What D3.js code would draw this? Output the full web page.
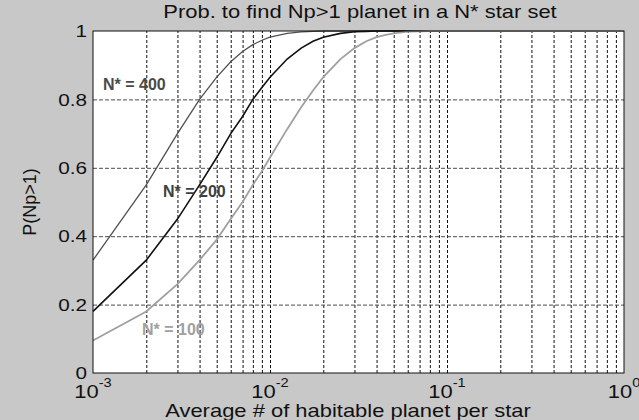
<!DOCTYPE html>
<html>
<head>
<meta charset="utf-8">
<script src="https://cdn.jsdelivr.net/npm/d3@7"></script>
<style>
  body { margin: 0; background: #c8c8c8; }
  svg { display: block; font-family: "Liberation Sans", Arial, sans-serif; }
</style>
</head>
<body>
<svg id="chart" width="639" height="420"></svg>
<script>
// values
const xValues = [0.001, 0.002, 0.003, 0.004, 0.005, 0.006, 0.007, 0.008, 0.009,
  0.01, 0.0125, 0.015, 0.0175, 0.02,
  0.025, 0.03, 0.035, 0.04, 0.045, 0.05,
  0.06, 0.07, 0.08, 0.09,
  0.1, 0.2, 0.3, 0.4, 0.5, 0.6, 0.7, 0.8, 0.9, 1];
const n400 = [0.33, 0.55, 0.70, 0.80, 0.865, 0.91, 0.94, 0.96, 0.973,
  0.982, 0.993, 0.9975, 0.999, 1,
  1, 1, 1, 1, 1, 1,
  1, 1, 1, 1,
  1, 1, 1, 1, 1, 1, 1, 1, 1, 1];
const n200 = [0.18, 0.33, 0.45, 0.55, 0.63, 0.70, 0.75, 0.80, 0.835,
  0.865, 0.918, 0.95, 0.97, 0.982,
  0.993, 0.998, 0.999, 1, 1, 1,
  1, 1, 1, 1,
  1, 1, 1, 1, 1, 1, 1, 1, 1, 1];
const n100 = [0.095, 0.18, 0.26, 0.33, 0.39, 0.45, 0.50, 0.55, 0.59,
  0.63, 0.713, 0.777, 0.826, 0.865,
  0.918, 0.95, 0.97, 0.982, 0.989, 0.993,
  0.998, 0.999, 1, 1,
  1, 1, 1, 1, 1, 1, 1, 1, 1, 1];
const seriesNames = ["N* = 400", "N* = 200", "N* = 100"];
const xGridValues = [0.002, 0.003, 0.004, 0.005, 0.006, 0.007, 0.008, 0.009,
  0.01, 0.02, 0.03, 0.04, 0.05, 0.06, 0.07, 0.08, 0.09,
  0.1, 0.2, 0.3, 0.4, 0.5, 0.6, 0.7, 0.8, 0.9];
const xMajor = [0.001, 0.01, 0.1, 1];
const xMajorLabels = ["-3", "-2", "-1", "0"];
const yTicks = [0, 0.2, 0.4, 0.6, 0.8, 1];
const yTickLabels = ["0", "0.2", "0.4", "0.6", "0.8", "1"];

const svg = d3.select("#chart");
const plot = { left: 93, right: 624, top: 31, bottom: 373 };
const stretch = 1.22; // text in the picture is wider than tall

const x = d3.scaleLog().domain([0.001, 1]).range([plot.left, plot.right]);
const y = d3.scaleLinear().domain([0, 1]).range([plot.bottom, plot.top]);

svg.append("rect")
  .attr("x", plot.left).attr("y", plot.top)
  .attr("width", plot.right - plot.left).attr("height", plot.bottom - plot.top)
  .attr("fill", "#fff");

// grid lines
const xGrid = svg.append("g")
  .attr("transform", `translate(0, ${plot.bottom})`)
  .call(d3.axisBottom(x).tickValues(xGridValues).tickSize(-(plot.bottom - plot.top)).tickFormat(""));
xGrid.select(".domain").remove();
xGrid.selectAll("line").attr("stroke", "#111").attr("stroke-dasharray", "3,2");

const yGrid = svg.append("g")
  .attr("transform", `translate(${plot.left}, 0)`)
  .call(d3.axisLeft(y).tickValues(yTicks.slice(1, -1)).tickSize(-(plot.right - plot.left)).tickFormat(""));
yGrid.select(".domain").remove();
yGrid.selectAll("line").attr("stroke", "#4a4a4a").attr("stroke-dasharray", "4,2");

// lines
const line = d3.line()
  .x((d, i) => x(xValues[i]))
  .y(d => y(d));

const lineStyles = [
  { data: n400, color: "#505050", width: 1.3 },
  { data: n200, color: "#111", width: 1.6 },
  { data: n100, color: "#a0a0a0", width: 1.8 }
];
svg.append("g").selectAll("path")
  .data(lineStyles)
  .join("path")
  .attr("fill", "none")
  .attr("stroke", d => d.color)
  .attr("stroke-width", d => d.width)
  .attr("d", d => line(d.data));

// box
svg.append("rect")
  .attr("x", plot.left).attr("y", plot.top)
  .attr("width", plot.right - plot.left).attr("height", plot.bottom - plot.top)
  .attr("fill", "none").attr("stroke", "#111").attr("stroke-width", 1);

// series labels
const labelPos = [
  { x: 103, y: 90, color: "#4a4a4a" },
  { x: 163, y: 197, color: "#404040" },
  { x: 142, y: 335, color: "#a0a0a0" }
];
svg.append("g").selectAll("text")
  .data(seriesNames)
  .join("text")
  .attr("x", (d, i) => labelPos[i].x)
  .attr("y", (d, i) => labelPos[i].y)
  .attr("fill", (d, i) => labelPos[i].color)
  .attr("font-size", 16)
  .attr("font-weight", "bold")
  .text(d => d);

// y tick labels
svg.append("g").selectAll("text")
  .data(yTicks)
  .join("text")
  .attr("transform", d => `translate(87, ${y(d)}) scale(${stretch}, 1)`)
  .attr("text-anchor", "end")
  .attr("dy", "0.36em")
  .attr("font-size", 17)
  .attr("fill", "#111")
  .text((d, i) => yTickLabels[i]);

// x tick labels
const xLabels = svg.append("g").selectAll("text")
  .data(xMajor)
  .join("text")
  .attr("transform", d => `translate(${x(d)}, 398) scale(${stretch}, 1)`)
  .attr("text-anchor", "middle")
  .attr("font-size", 18)
  .attr("fill", "#111");
xLabels.append("tspan").text("10");
xLabels.append("tspan").attr("font-size", 12).attr("dy", -11).text((d, i) => xMajorLabels[i]);

// title and axis labels
svg.append("text")
  .attr("transform", `translate(360, 18) scale(${stretch}, 1)`)
  .attr("text-anchor", "middle")
  .attr("font-size", 18)
  .attr("fill", "#111")
  .text("Prob. to find Np>1 planet in a N* star set");

svg.append("text")
  .attr("transform", `translate(348, 417) scale(${stretch}, 1)`)
  .attr("text-anchor", "middle")
  .attr("font-size", 18)
  .attr("fill", "#111")
  .text("Average # of habitable planet per star");

svg.append("text")
  .attr("transform", "translate(36, 202) rotate(-90)")
  .attr("text-anchor", "middle")
  .attr("font-size", 18)
  .attr("fill", "#111")
  .text("P(Np>1)");
</script>
</body>
</html>
